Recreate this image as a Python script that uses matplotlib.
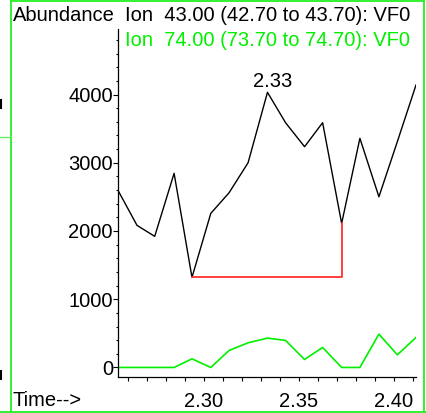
import matplotlib
matplotlib.use("Agg")
import matplotlib.pyplot as plt
from matplotlib.lines import Line2D
from matplotlib.ticker import MultipleLocator

plt.rcParams['font.family'] = ['Liberation Sans', 'DejaVu Sans']

# scan times (min)
times = [2.2549, 2.2649, 2.2742, 2.2844, 2.2938, 2.3037, 2.3133, 2.3233, 2.3335,
         2.3430, 2.3530, 2.3625, 2.3725, 2.3821, 2.3921, 2.4018, 2.4116]
# ion 43 abundance
ion43 = [2595, 2082, 1921, 2845, 1320, 2258, 2560, 3000, 4032,
         3587, 3235, 3587, 2111, 3358, 2501, 3310, 4139]
# ion 74 abundance
ion74 = [0, 0, 0, 0, 126, 0, 249, 361, 430,
         396, 117, 293, 0, 0, 488, 185, 440]

peak_label = "2.33"
peak_idx = 8
int_start, int_end = 4, 12

FS = 14.5
GREEN = '#00f000'

W, H = 427, 413
fig = plt.figure(figsize=(W / 100, H / 100), dpi=100)
ax = fig.add_axes([118 / W, 1 - 377 / H, (416 - 118) / W, (377 - 29) / H])

ax.plot(times, ion43, color='black', lw=1.0)
ax.plot(times, ion74, color=GREEN, lw=1.2)

# integration baseline
ax.plot([times[int_start], times[int_end], times[int_end]],
        [ion43[int_start], ion43[int_start], ion43[int_end]],
        color='#ff3030', lw=1.3)

ax.annotate(peak_label, (times[peak_idx], ion43[peak_idx]),
            xytext=(4, 4), textcoords='offset points',
            ha='center', va='baseline', fontsize=FS)

ax.set_xlim(times[0], times[-1])
ax.set_ylim(-140, 4960)
ax.xaxis.set_major_locator(MultipleLocator(0.05))
ax.xaxis.set_minor_locator(MultipleLocator(0.01))
ax.yaxis.set_major_locator(MultipleLocator(1000))
ax.yaxis.set_minor_locator(MultipleLocator(200))
ax.xaxis.set_major_formatter(lambda v, p: f"{v:.2f}")
ax.yaxis.set_major_formatter(lambda v, p: f"{v:.0f}")

ax.tick_params(axis='x', which='both', length=3, width=0.8, direction='out',
               labelsize=FS, pad=8)
ax.tick_params(axis='y', which='major', length=3.6, width=0.8, labelsize=FS, pad=0)
ax.tick_params(axis='y', which='minor', length=1.5, width=0.8)

for s in ['top', 'right']:
    ax.spines[s].set_visible(False)
for s in ['left', 'bottom']:
    ax.spines[s].set_linewidth(0.9)

fig.text(13 / W, 1 - 21 / H, "Abundance", fontsize=FS, va='baseline')
fig.text(125 / W, 1 - 21 / H, "Ion  43.00 (42.70 to 43.70): VF0",
         fontsize=FS, va='baseline')
fig.text(125 / W, 1 - 46.5 / H, "Ion  74.00 (73.70 to 74.70): VF0",
         fontsize=FS, va='baseline', color=GREEN)
fig.text(13 / W, 1 - 406.5 / H, "Time-->", fontsize=FS, va='baseline')

# window frame
def fline(xs, ys, color='#22f022', lw=1.3):
    fig.add_artist(Line2D([x / W for x in xs], [1 - y / H for y in ys],
                          color=color, lw=lw, transform=fig.transFigure))

fline([11, 11], [1, 412])
fline([11, 424], [1, 1])
fline([424, 424], [1, 412])
fline([0, 427], [411.5, 411.5])
fline([0, 11], [137, 137], color='#66ee66', lw=1.0)
fline([0.5, 0.5], [100, 108], color='black', lw=1.5)
fline([0.5, 0.5], [371, 379], color='black', lw=1.5)

fig.savefig("out.png", dpi=100)
